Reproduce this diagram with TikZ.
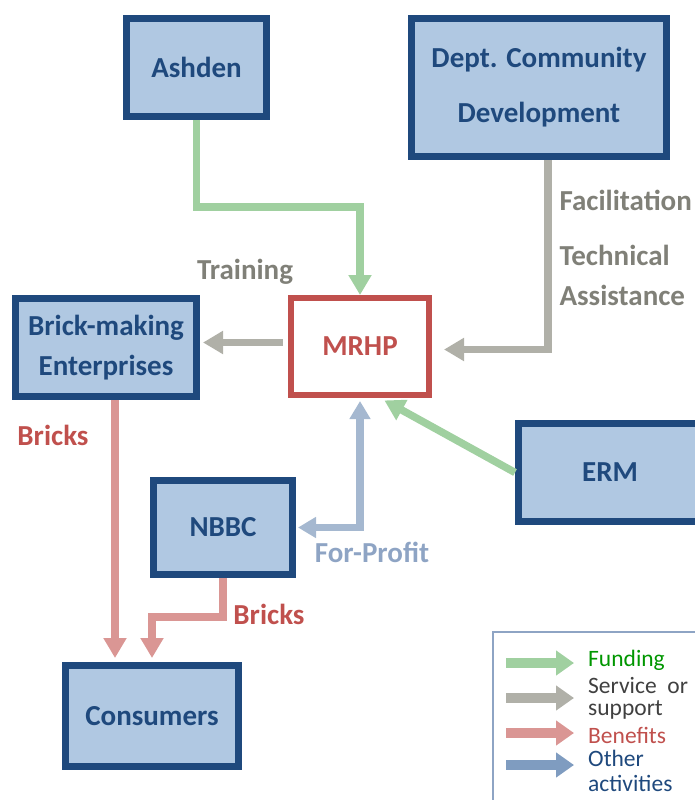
\documentclass[tikz,border=0pt]{standalone}
\usepackage{fontspec}
\setmainfont{Carlito}
\usetikzlibrary{arrows.meta,calc}
\definecolor{boxfill}{RGB}{176,200,226}
\definecolor{boxline}{RGB}{31,73,125}
\definecolor{mrhpred}{RGB}{192,80,77}
\definecolor{fundgreen}{RGB}{160,208,160}
\definecolor{servgray}{RGB}{176,176,168}
\definecolor{benred}{RGB}{218,150,148}
\definecolor{othblue}{RGB}{165,184,208}
\definecolor{legblue}{RGB}{127,156,192}
\definecolor{labgray}{RGB}{128,128,120}
\definecolor{profitblue}{RGB}{142,164,196}
\definecolor{keygreen}{RGB}{0,150,0}
\definecolor{keygray}{RGB}{64,64,64}

\tikzset{
  agency/.style={draw=boxline, line width=7pt, fill=boxfill, text=boxline,
    font=\fontsize{29}{35}\selectfont\bfseries, align=center, inner sep=0pt},
  lab/.style={font=\fontsize{29}{35}\selectfont\bfseries},
  flow/.style={line width=7.5pt, -{Triangle[width=22pt,length=20pt]}},
  fund/.style={flow, draw=fundgreen},
  serv/.style={flow, draw=servgray},
  bene/.style={flow, draw=benred},
  other/.style={flow, draw=othblue},
  key/.style={line width=10pt, -{Triangle[width=24pt,length=18pt]}},
  keytext/.style={anchor=west, font=\fontsize{23.5}{26}\selectfont, inner sep=0pt},
}

\begin{document}
\begin{tikzpicture}[x=1pt,y=-1pt]
\useasboundingbox (0,0) rectangle (694,800);

\node[agency, minimum width=140pt, minimum height=98pt] (ashden) at (196.5,67.5) {Ashden};
\node[agency, minimum width=255pt, minimum height=138pt] (dept) at (539,87.5) {Dept. Community\\[20pt]Development};
\node[draw=mrhpred, line width=6pt, fill=white, text=mrhpred, lab,
  minimum width=138pt, minimum height=97pt] (mrhp) at (360,346.5) {MRHP};
\node[agency, minimum width=181pt, minimum height=98pt] (brick) at (106,347.5) {Brick-making\\[5pt]Enterprises};
\node[agency, minimum width=183pt, minimum height=98pt] (erm) at (610,472.5) {ERM};
\node[agency, minimum width=139pt, minimum height=94pt] (nbbc) at (223,527.5) {NBBC};
\node[agency, minimum width=173pt, minimum height=101pt] (consumers) at (152,716) {Consumers};

\coordinate (trainfrom) at ($(mrhp.west)+(0,-4)$);
\coordinate (deptfoot) at ($(dept.south)+(9,0)$);
\coordinate (brickfoot) at ($(brick.south)+(9,0)$);

\draw[fund] (ashden.south) -- (ashden.south |- 0,207) -| (mrhp.north);
\draw[serv, shorten >=12pt] (deptfoot) |- ($(mrhp.east)+(0,3)$);
\draw[serv, shorten <=5pt, shorten >=3pt] (trainfrom) -- (trainfrom -| brick.east);
\draw[fund, shorten >=5pt] (erm.west) -- ($(mrhp.south)+(20,0)$);
\draw[other, {Triangle[width=20pt,length=18pt]}-{Triangle[width=20pt,length=18pt]},
  shorten <=3pt, shorten >=2pt] (mrhp.south) |- (nbbc.east);
\draw[bene, shorten >=4pt] (brickfoot) -- (brickfoot |- consumers.north);
\draw[bene, shorten >=4pt] (nbbc.south) -- ++(0,39) -| (consumers.north);

\node[lab, text=labgray] (training) at (245,272) {Training};
\node[lab, text=labgray, anchor=west] (facil) at (556,200) {Facilitation};
\node[lab, text=labgray, anchor=west, align=left] (techassist) at (556,275) {Technical\\[5pt]Assistance};
\node[lab, text=mrhpred] (bricksa) at (53,435) {Bricks};
\node[lab, text=profitblue] (forprofit) at (372,552) {For-Profit};
\node[lab, text=mrhpred] (bricksb) at (269,614) {Bricks};

\draw[profitblue, line width=2pt] (493,632) rectangle (705,810);
\foreach \col/\yy in {fundgreen/663, servgray/698, benred/733, legblue/765}
  \draw[key, draw=\col] (506,\yy) -- (574,\yy);
\node[keytext, text=keygreen] (kfund) at (588,660) {Funding};
\node[keytext, text=keygray] (kserv) at (588,685) {Service\ \ or};
\node[keytext, text=keygray] (ksupp) at (588,710) {support};
\node[keytext, text=mrhpred] (kbene) at (588,735) {Benefits};
\node[keytext, text=boxline] (kother) at (588,758) {Other};
\node[keytext, text=boxline] (kact) at (588,783) {activities};
\end{tikzpicture}
\end{document}
